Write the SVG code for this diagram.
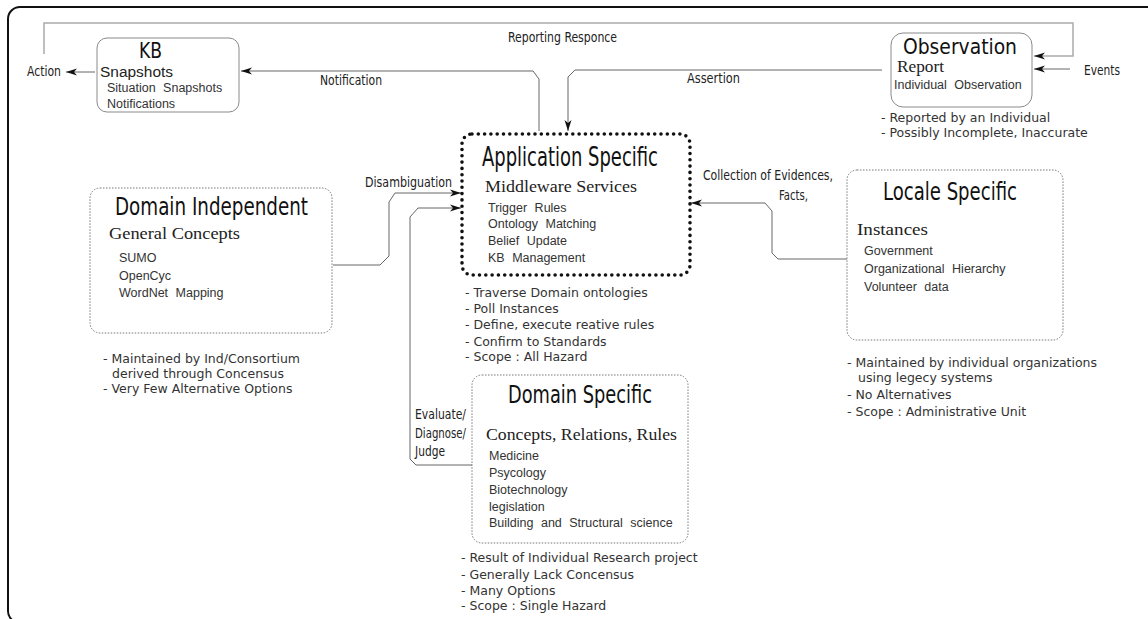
<svg xmlns="http://www.w3.org/2000/svg" width="1148" height="619" viewBox="0 0 1148 619">
<style>
.frame{fill:none;stroke:#111;stroke-width:2}
.solid{fill:#fff;stroke:#8a8a8a;stroke-width:1}
.dotbox{fill:#fff;stroke:#777;stroke-width:1;stroke-dasharray:1.5 1.5}
.appbox{fill:#fff;stroke:#111;stroke-width:3.6;stroke-dasharray:0 6.3;stroke-linecap:round}
.conn{fill:none;stroke:#666;stroke-width:1}
.loop{fill:none;stroke:#aaa;stroke-width:1.5}
.head{font-family:"Liberation Sans Narrow","DejaVu Sans Condensed","Liberation Sans",sans-serif;fill:#111}
.lbl{font-family:"Liberation Sans Narrow","DejaVu Sans Condensed","Liberation Sans",sans-serif;font-size:14px;fill:#222}
.sub{font-family:"Liberation Serif","DejaVu Serif",serif;font-size:16px;fill:#222}
.subs{font-family:"Liberation Sans",sans-serif;font-size:14px;fill:#222}
.item{font-family:"Liberation Sans",sans-serif;font-size:12.5px;fill:#333;word-spacing:4px}
.bul{font-family:"DejaVu Sans","Liberation Sans",sans-serif;font-size:12.5px;fill:#333}
</style>
<defs>
<marker id="ah" markerUnits="userSpaceOnUse" markerWidth="12" markerHeight="8" refX="11" refY="4" orient="auto">
<path d="M0,0.5 L11,4 L0,7.5 L3,4 Z" fill="#111"/>
</marker>
</defs>
<rect class="frame" x="8" y="7" width="1160" height="616" rx="12"/>

<g id="connectors">
<path class="loop" d="M44 54 V23 H1073 V56 H1034" marker-end="url(#ah)"/>
<path class="conn" d="M95 72 H66" marker-end="url(#ah)"/>
<path class="conn" d="M1070 69 H1034" marker-end="url(#ah)"/>
<path class="conn" d="M539 131 V79 L533 71 H241" marker-end="url(#ah)"/>
<path class="conn" d="M882 70 H575 L568 77 V131" marker-end="url(#ah)"/>
<path class="conn" d="M333 265 H380 L389 256 V202 L395 193 H461" marker-end="url(#ah)"/>
<path class="conn" d="M472 465 H416 L410 459 V217 L418 208 H461" marker-end="url(#ah)"/>
<path class="conn" d="M847 259 H778 L772 253 V211 L765 203 H691" marker-end="url(#ah)"/>
<text class="lbl" x="508" y="42" textLength="109" lengthAdjust="spacingAndGlyphs">Reporting Responce</text>
<text class="lbl" x="27" y="76" textLength="34" lengthAdjust="spacingAndGlyphs">Action</text>
<text class="lbl" x="1084" y="75" textLength="36" lengthAdjust="spacingAndGlyphs">Events</text>
<text class="lbl" x="320" y="85" textLength="62" lengthAdjust="spacingAndGlyphs">Notification</text>
<text class="lbl" x="687" y="83" textLength="53" lengthAdjust="spacingAndGlyphs">Assertion</text>
<text class="lbl" x="365" y="187" textLength="87" lengthAdjust="spacingAndGlyphs">Disambiguation</text>
<text class="lbl" x="703" y="180" textLength="130" lengthAdjust="spacingAndGlyphs">Collection of Evidences,</text>
<text class="lbl" x="779" y="200" textLength="29" lengthAdjust="spacingAndGlyphs">Facts,</text>
<text class="lbl" x="415" y="419" textLength="51" lengthAdjust="spacingAndGlyphs">Evaluate/</text>
<text class="lbl" x="415" y="438" textLength="51" lengthAdjust="spacingAndGlyphs">Diagnose/</text>
<text class="lbl" x="415" y="456" textLength="30" lengthAdjust="spacingAndGlyphs">Judge</text>
</g>

<g id="kb">
<rect class="solid" x="97" y="38" width="142" height="74" rx="10"/>
<text class="head" x="139" y="58" font-size="22" textLength="23" lengthAdjust="spacingAndGlyphs">KB</text>
<text class="subs" x="100" y="77" textLength="73" lengthAdjust="spacingAndGlyphs">Snapshots</text>
<text class="item" x="107" y="92">Situation Snapshots</text>
<text class="item" x="107" y="108">Notifications</text>
</g>

<g id="observation">
<rect class="solid" x="891" y="33" width="141" height="74" rx="12"/>
<text class="head" x="903" y="54" font-size="22" textLength="114" lengthAdjust="spacingAndGlyphs">Observation</text>
<text class="sub" x="897" y="72" font-size="13.5" textLength="47" lengthAdjust="spacingAndGlyphs">Report</text>
<text class="item" x="894" y="89">Individual Observation</text>
<text class="bul" x="881" y="122">- Reported by an Individual</text>
<text class="bul" x="881" y="137">- Possibly Incomplete, Inaccurate</text>
</g>

<g id="application-specific">
<rect class="appbox" x="462" y="134" width="228" height="141" rx="10"/>
<text class="head" x="482" y="166" font-size="26" textLength="176" lengthAdjust="spacingAndGlyphs">Application Specific</text>
<text class="sub" x="485" y="192" textLength="152" lengthAdjust="spacingAndGlyphs">Middleware Services</text>
<text class="item" x="488" y="212">Trigger Rules</text>
<text class="item" x="488" y="228">Ontology Matching</text>
<text class="item" x="488" y="245">Belief Update</text>
<text class="item" x="488" y="262">KB Management</text>
<text class="bul" x="465" y="297">- Traverse Domain ontologies</text>
<text class="bul" x="465" y="313">- Poll Instances</text>
<text class="bul" x="465" y="329">- Define, execute reative rules</text>
<text class="bul" x="465" y="346">- Confirm to Standards</text>
<text class="bul" x="465" y="361">- Scope : All Hazard</text>
</g>

<g id="domain-independent">
<rect class="dotbox" x="90" y="188" width="242" height="145" rx="10"/>
<text class="head" x="115" y="215" font-size="25" textLength="193" lengthAdjust="spacingAndGlyphs">Domain Independent</text>
<text class="sub" x="109" y="239" textLength="131" lengthAdjust="spacingAndGlyphs">General Concepts</text>
<text class="item" x="119" y="262">SUMO</text>
<text class="item" x="119" y="280">OpenCyc</text>
<text class="item" x="119" y="297">WordNet Mapping</text>
<text class="bul" x="103" y="363">- Maintained by Ind/Consortium</text>
<text class="bul" x="112" y="378">derived through Concensus</text>
<text class="bul" x="103" y="393">- Very Few Alternative Options</text>
</g>

<g id="locale-specific">
<rect class="dotbox" x="847" y="170" width="216" height="170" rx="10"/>
<text class="head" x="883" y="200" font-size="24" textLength="134" lengthAdjust="spacingAndGlyphs">Locale Specific</text>
<text class="sub" x="857" y="235" font-size="15" textLength="71" lengthAdjust="spacingAndGlyphs">Instances</text>
<text class="item" x="864" y="255">Government</text>
<text class="item" x="864" y="273">Organizational Hierarchy</text>
<text class="item" x="864" y="291">Volunteer data</text>
<text class="bul" x="847" y="367">- Maintained by individual organizations</text>
<text class="bul" x="858" y="382">using legecy systems</text>
<text class="bul" x="847" y="399">- No Alternatives</text>
<text class="bul" x="847" y="416">- Scope : Administrative Unit</text>
</g>

<g id="domain-specific">
<rect class="dotbox" x="472" y="375" width="216" height="168" rx="10"/>
<text class="head" x="508" y="403" font-size="25" textLength="144" lengthAdjust="spacingAndGlyphs">Domain Specific</text>
<text class="sub" x="486" y="440" textLength="191" lengthAdjust="spacingAndGlyphs">Concepts, Relations, Rules</text>
<text class="item" x="489" y="460">Medicine</text>
<text class="item" x="489" y="477">Psycology</text>
<text class="item" x="489" y="494">Biotechnology</text>
<text class="item" x="489" y="511">legislation</text>
<text class="item" x="489" y="527">Building and Structural science</text>
<text class="bul" x="461" y="562">- Result of Individual Research project</text>
<text class="bul" x="461" y="579">- Generally Lack Concensus</text>
<text class="bul" x="461" y="595">- Many Options</text>
<text class="bul" x="461" y="610">- Scope : Single Hazard</text>
</g>
</svg>
